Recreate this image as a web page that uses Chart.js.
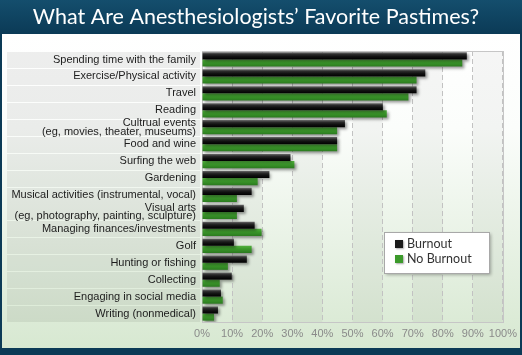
<!DOCTYPE html>
<html>
<head>
<meta charset="utf-8">
<script src="https://cdn.jsdelivr.net/npm/chart.js@4/dist/chart.umd.min.js"></script>
<style>
html,body{margin:0;padding:0;background:#0b3a56;}
#wrap{width:522px;height:355px;position:relative;}
canvas{display:block;}
</style>
</head>
<body>
<div id="wrap"><canvas id="c" width="522" height="355"></canvas></div>
<script>
const titleText = "What Are Anesthesiologists\u2019 Favorite Pastimes?";
const categories = [
  "Spending time with the family",
  "Exercise/Physical activity",
  "Travel",
  "Reading",
  ["Cultrual events", "(eg, movies, theater, museums)"],
  "Food and wine",
  "Surfing the web",
  "Gardening",
  "Musical activities (instrumental, vocal)",
  ["Visual arts", "(eg, photography, painting, sculpture)"],
  "Managing finances/investments",
  "Golf",
  "Hunting or fishing",
  "Collecting",
  "Engaging in social media",
  "Writing (nonmedical)"
];
const seriesNames = ["Burnout", "No Burnout"];
const burnout   = [88, 74.2, 71.3, 60.1, 47.5, 44.9, 29.4, 22.4, 16.5, 13.9, 17.5, 10.6, 14.9, 9.9, 6.3, 5.3];
const noBurnout = [86.5, 71.3, 68.6, 61.4, 44.9, 44.9, 30.7, 18.5, 11.6, 11.6, 19.8, 16.5, 8.6, 5.9, 6.9, 4.0];
const xTicks = [0, 10, 20, 30, 40, 50, 60, 70, 80, 90, 100];

const CAT_PCT = 0.84;
function barGrad(ctx, dsIndex, stops){
  const chart = ctx.chart;
  const y = chart.scales.y;
  if (!chart.chartArea || !y) return stops[1][1];
  const i = ctx.dataIndex;
  const yc = y.getPixelForValue(i);
  const rh = (chart.chartArea.bottom - chart.chartArea.top) / categories.length;
  const h = rh * CAT_PCT / 2;
  const top = dsIndex === 0 ? yc - h : yc;
  const g = chart.ctx.createLinearGradient(0, top, 0, top + h);
  stops.forEach(s => g.addColorStop(s[0], s[1]));
  return g;
}
const blackStops = [[0,'#6a6a6a'],[0.3,'#2a2a2a'],[0.6,'#111111'],[1,'#000000']];
const greenStops = [[0,'#52b03e'],[0.4,'#3c9a2b'],[1,'#2b7a1f']];

const deco = {
  id: 'deco',
  beforeDraw(chart){
    const {ctx, width, height, chartArea: a, scales: {x, y}} = chart;
    ctx.save();
    ctx.fillStyle = '#0b3a56';
    ctx.fillRect(0, 0, width, height);
    let g = ctx.createLinearGradient(0, 0, 0, 34);
    g.addColorStop(0, '#144e6d'); g.addColorStop(1, '#0b3a56');
    ctx.fillStyle = g; ctx.fillRect(0, 0, width, 34);
    g = ctx.createLinearGradient(0, 34, 0, 348);
    g.addColorStop(0, '#ffffff'); g.addColorStop(0.3, '#fbfdfb'); g.addColorStop(1, '#d7e8d1');
    ctx.fillStyle = g; ctx.fillRect(2, 34, width - 4, 314);
    const n = categories.length;
    const rh = (a.bottom - a.top) / n;
    ctx.fillStyle = 'rgba(0,0,0,0.065)';
    for (let i = 0; i < n; i++) {
      const yc = y.getPixelForValue(i);
      ctx.fillRect(7, Math.round(yc - rh / 2) + 1, a.left - 9, Math.round(rh) - 1);
    }
    ctx.fillStyle = 'rgba(0,0,0,0.035)';
    for (let v = 10; v < 100; v += 20) {
      const x0 = x.getPixelForValue(v), x1 = x.getPixelForValue(v + 10);
      ctx.fillRect(x0, a.top, x1 - x0, a.bottom - a.top);
    }
    ctx.restore();
  },
  beforeDatasetsDraw(chart){
    const {ctx, chartArea: a} = chart;
    ctx.save();
    ctx.strokeStyle = '#c6c6c6'; ctx.lineWidth = 1;
    ctx.strokeRect(Math.round(a.left) + 0.5, Math.round(a.top) + 0.5, Math.round(a.right - a.left), Math.round(a.bottom - a.top));
    ctx.restore();
    ctx.save();
    ctx.shadowColor = 'rgba(0,0,0,0.4)';
    ctx.shadowOffsetX = 2; ctx.shadowOffsetY = 2; ctx.shadowBlur = 3;
  },
  afterDatasetsDraw(chart){
    chart.ctx.restore();
  },
  afterDraw(chart){
    const {ctx, chartArea: a} = chart;
    const bx = a.left + 182, by = 232, bw = 105, bh = 41;
    ctx.save();
    ctx.shadowColor = 'rgba(0,0,0,0.3)';
    ctx.shadowOffsetX = 2; ctx.shadowOffsetY = 2; ctx.shadowBlur = 3;
    ctx.fillStyle = '#ffffff';
    ctx.fillRect(bx, by, bw, bh);
    ctx.restore();
    ctx.save();
    ctx.strokeStyle = '#a8a8a8'; ctx.lineWidth = 1;
    ctx.strokeRect(bx + 0.5, by + 0.5, bw, bh);
    const cols = ['#1a1a1a', '#3c9a2b'];
    ctx.font = '12.5px Lato, "Liberation Sans", sans-serif';
    ctx.textBaseline = 'middle';
    chart.data.datasets.forEach((ds, i) => {
      const cy = by + 12 + i * 15;
      ctx.save();
      ctx.shadowColor = 'rgba(0,0,0,0.35)';
      ctx.shadowOffsetX = 1; ctx.shadowOffsetY = 1; ctx.shadowBlur = 2;
      ctx.fillStyle = cols[i];
      ctx.fillRect(bx + 11, cy - 4, 8, 8);
      ctx.restore();
      ctx.fillStyle = '#333333';
      ctx.fillText(ds.label, bx + 23, cy);
    });
    ctx.restore();
  }
};

new Chart(document.getElementById('c'), {
  type: 'bar',
  data: {
    labels: categories,
    datasets: [
      { label: seriesNames[0], data: burnout,
        backgroundColor: c => barGrad(c, 0, blackStops), borderWidth: 0 },
      { label: seriesNames[1], data: noBurnout,
        backgroundColor: c => barGrad(c, 1, greenStops), borderWidth: 0 }
    ]
  },
  options: {
    indexAxis: 'y',
    responsive: false,
    animation: false,
    devicePixelRatio: 1,
    categoryPercentage: CAT_PCT,
    barPercentage: 1.0,
    layout: { padding: { top: 0, left: 7, right: 17, bottom: 7 } },
    plugins: {
      legend: { display: false },
      tooltip: { enabled: false },
      title: {
        display: true,
        text: titleText,
        color: '#ffffff',
        font: { family: 'Lato, "Open Sans", sans-serif', size: 21.5, weight: 'normal', lineHeight: 1.2 },
        padding: { top: 4, bottom: 21.2 }
      }
    },
    scales: {
      x: {
        min: 0, max: 100,
        afterBuildTicks: s => { s.ticks = xTicks.map(v => ({ value: v })); },
        afterFit: s => { s.height = 26; },
        ticks: {
          callback: v => v + '%',
          color: '#8a8a8a',
          font: { family: '"Liberation Sans", Arial, sans-serif', size: 11 },
          padding: 5,
          maxRotation: 0, autoSkip: false
        },
        grid: { color: '#c2c2c2', drawTicks: false, lineWidth: 1 },
        border: { display: false, dash: [5, 3] }
      },
      y: {
        afterFit: s => { s.width = 195; },
        ticks: {
          color: '#1c1c1c',
          font: { family: '"Liberation Sans", Arial, sans-serif', size: 11, lineHeight: 0.78 },
          padding: 6,
          autoSkip: false
        },
        grid: { display: false, drawTicks: false },
        border: { display: false }
      }
    }
  },
  plugins: [deco]
});
</script>
</body>
</html>
